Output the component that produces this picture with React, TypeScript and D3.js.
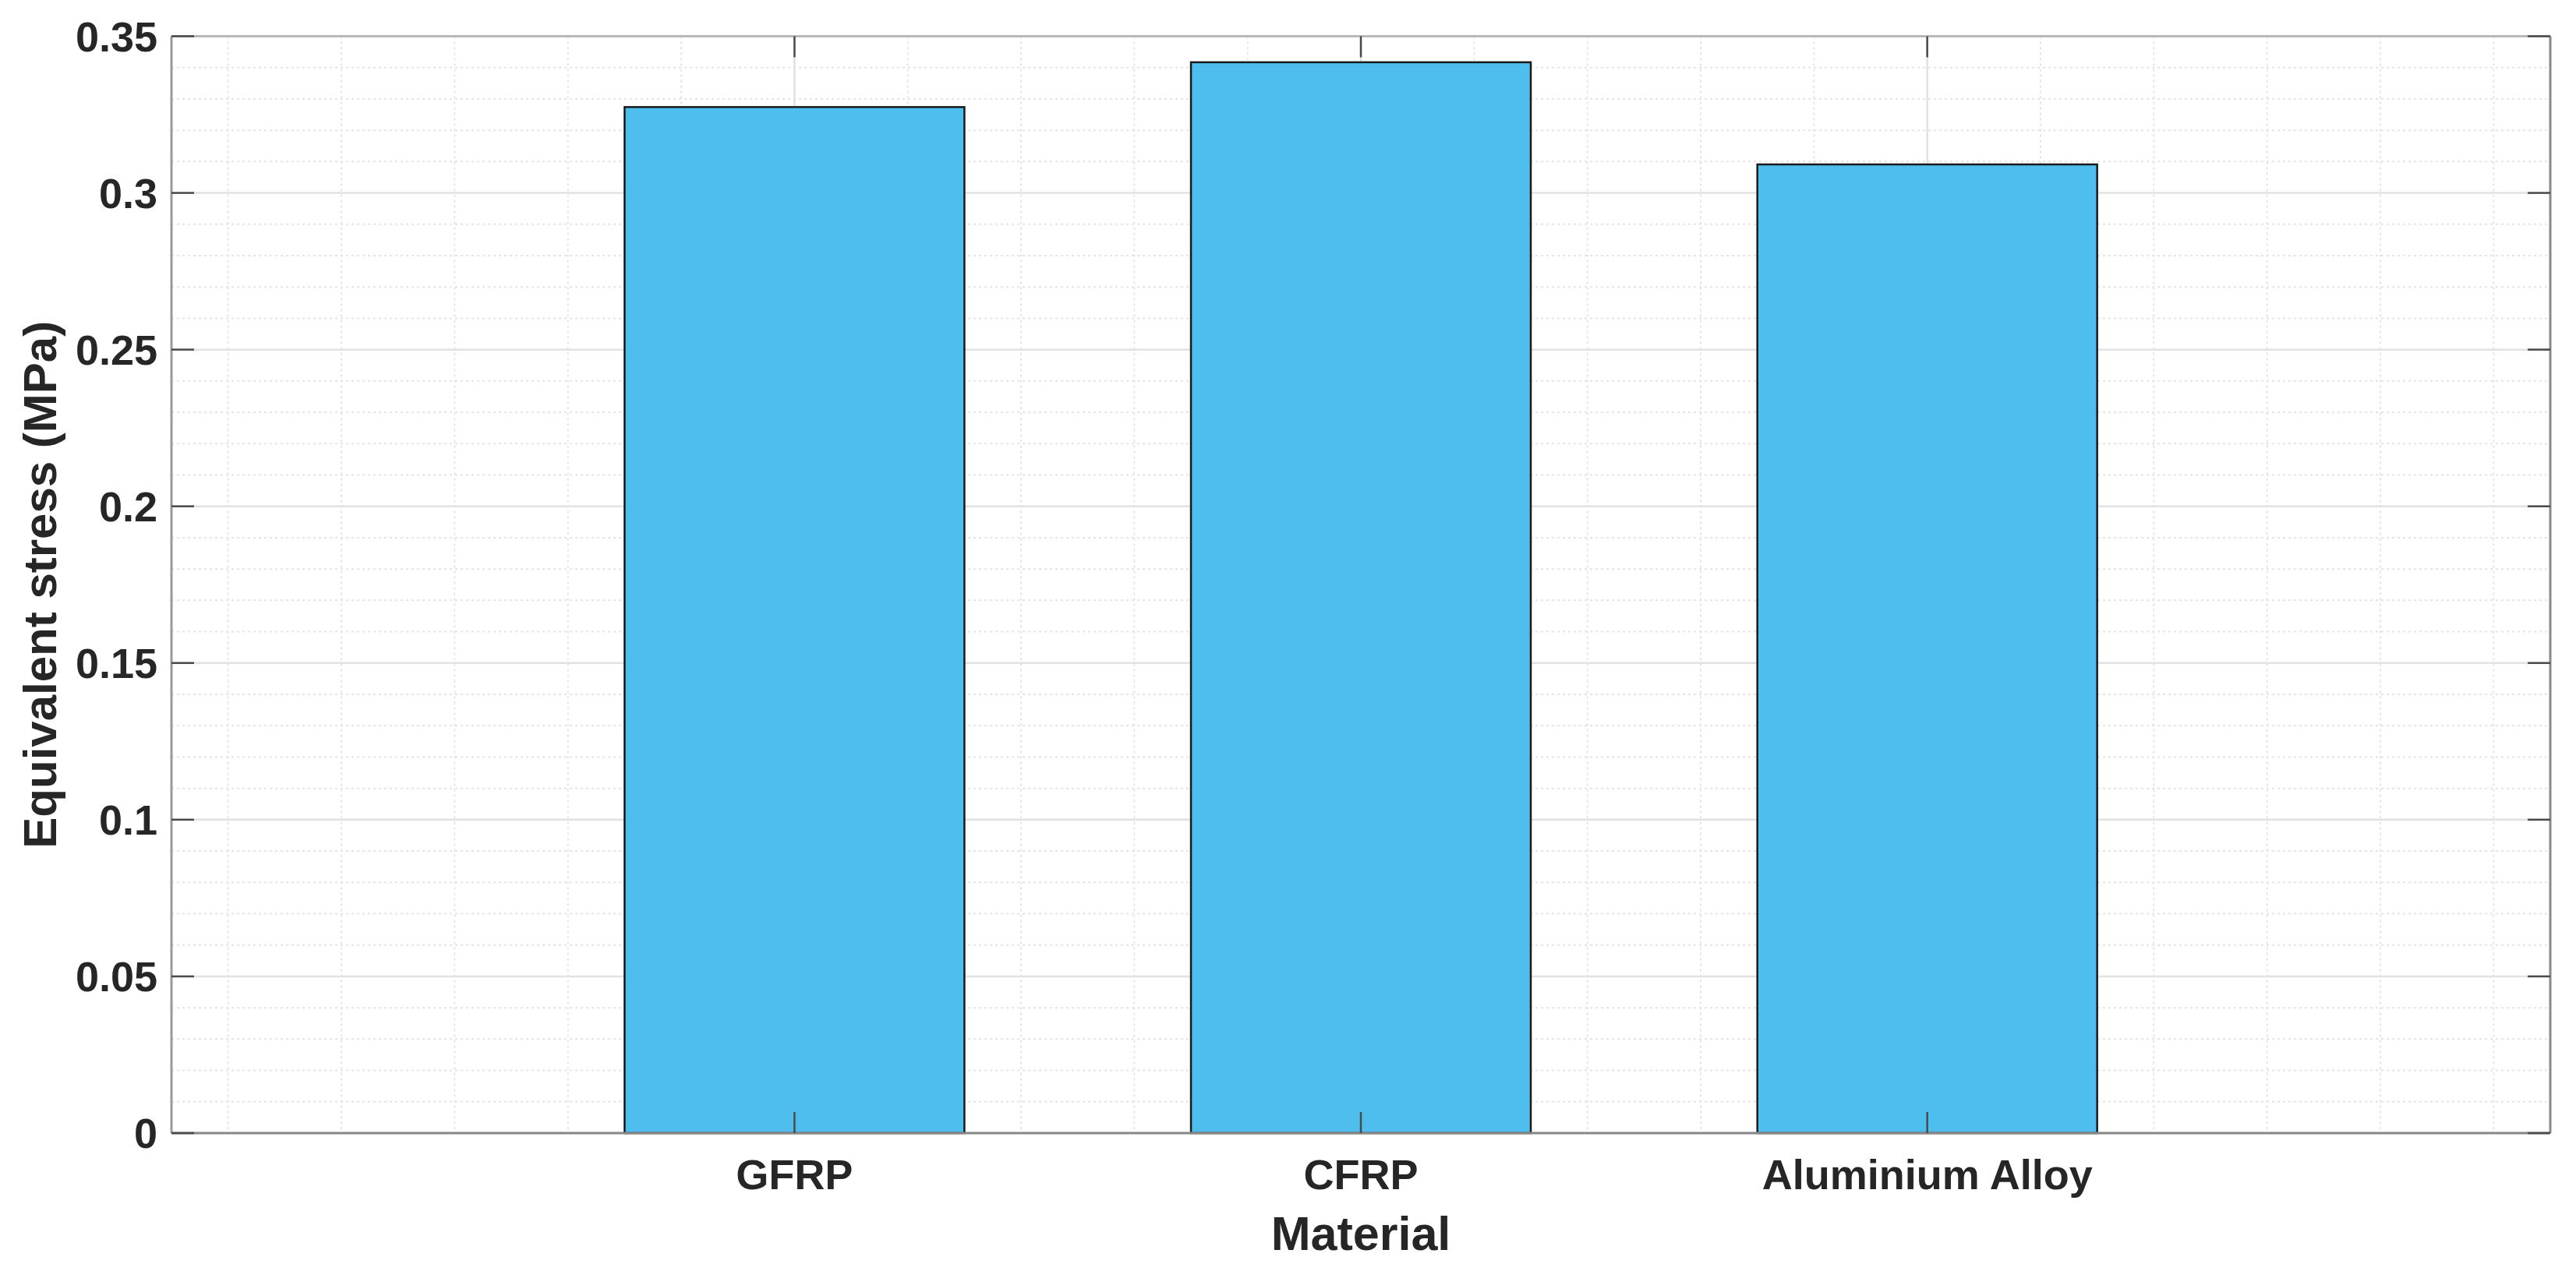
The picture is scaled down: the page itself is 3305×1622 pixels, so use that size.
import React from "react";
import * as d3 from "d3";

const categories = ["GFRP", "CFRP", "Aluminium Alloy"];
const positions = [1, 2, 3];
const stressValues = [0.3274, 0.3417, 0.3091];
const yTickValues = [0, 0.05, 0.1, 0.15, 0.2, 0.25, 0.3, 0.35];
const yTickLabels = ["0", "0.05", "0.1", "0.15", "0.2", "0.25", "0.3", "0.35"];
const xLabel = "Material";
const yLabel = "Equivalent stress (MPa)";

const W = 3305;
const H = 1622;
const L = 220;
const R = 3272;
const T = 46.5;
const B = 1454;

export default function App() {
  const x = d3.scaleLinear().domain([-0.1, 4.1]).range([L, R]);
  const y = d3.scaleLinear().domain([0, 0.35]).range([B, T]);
  const barW = x(0.6) - x(0);

  const minorX = d3.range(0, 4.0001, 0.2).filter((v) => Math.abs(v - Math.round(v)) > 1e-6 || Math.round(v) === 0 || Math.round(v) === 4);
  const minorY = d3.range(0, 0.35001, 0.01).filter((v) => Math.abs(v / 0.05 - Math.round(v / 0.05)) > 1e-6);

  const font = "'Liberation Sans', Arial, Helvetica, sans-serif";
  const txt = "#262626";

  return (
    <svg width={W} height={H} style={{ position: "absolute", left: 0, top: 0, display: "block", background: "#fff" }}>
      <rect x={0} y={0} width={W} height={H} fill="#fff" />
      {/* minor grid */}
      <g stroke="#e4e4e4" strokeWidth={2} strokeDasharray="3 4">
        {minorX.map((v, i) => (
          <line key={"mx" + i} x1={x(v)} x2={x(v)} y1={T} y2={B} />
        ))}
        {minorY.map((v, i) => (
          <line key={"my" + i} x1={L} x2={R} y1={y(v)} y2={y(v)} />
        ))}
      </g>
      {/* major grid */}
      <g stroke="#e2e2e2" strokeWidth={2.5}>
        {positions.map((v, i) => (
          <line key={"gx" + i} x1={x(v)} x2={x(v)} y1={T} y2={B} />
        ))}
        {yTickValues.map((v, i) => (
          <line key={"gy" + i} x1={L} x2={R} y1={y(v)} y2={y(v)} />
        ))}
      </g>
      {/* bars */}
      <g>
        {stressValues.map((v, i) => (
          <rect
            key={"b" + i}
            x={x(positions[i]) - barW / 2}
            y={y(v)}
            width={barW}
            height={y(0) - y(v)}
            fill="#4DBEEE"
            stroke="#1a1a1a"
            strokeWidth={2.5}
          />
        ))}
      </g>
      {/* axes box */}
      <line x1={L} x2={R} y1={T} y2={T} stroke="#b8b8b8" strokeWidth={3} />
      <line x1={L} x2={L} y1={T} y2={B} stroke="#999" strokeWidth={3} />
      <line x1={R} x2={R} y1={T} y2={B} stroke="#888" strokeWidth={3} />
      <line x1={L} x2={R} y1={B} y2={B} stroke="#888" strokeWidth={3} />
      {/* ticks */}
      <g stroke="#4a4a4a" strokeWidth={2.5}>
        {yTickValues.map((v, i) => (
          <g key={"ty" + i}>
            <line x1={L} x2={L + 29} y1={y(v)} y2={y(v)} />
            <line x1={R - 29} x2={R} y1={y(v)} y2={y(v)} />
          </g>
        ))}
        {positions.map((v, i) => (
          <g key={"tx" + i}>
            <line x1={x(v)} x2={x(v)} y1={B} y2={B - 27} />
            <line x1={x(v)} x2={x(v)} y1={T} y2={T + 27} />
          </g>
        ))}
      </g>
      {/* y tick labels */}
      <g fontFamily={font} fontWeight="bold" fontSize={54} fill={txt} textAnchor="end">
        {yTickValues.map((v, i) => (
          <text key={"yl" + i} x={202} y={y(v) + 19}>
            {yTickLabels[i]}
          </text>
        ))}
      </g>
      {/* x tick labels */}
      <g fontFamily={font} fontWeight="bold" fontSize={54} fill={txt} textAnchor="middle">
        {categories.map((c, i) => (
          <text key={"xl" + i} x={x(positions[i])} y={1526}>
            {c}
          </text>
        ))}
      </g>
      {/* axis labels */}
      <text x={(L + R) / 2} y={1604} fontFamily={font} fontWeight="bold" fontSize={61} fill={txt} textAnchor="middle">
        {xLabel}
      </text>
      <text
        transform={`translate(72, ${(T + B) / 2}) rotate(-90)`}
        fontFamily={font}
        fontWeight="bold"
        fontSize={60}
        fill={txt}
        textAnchor="middle"
      >
        {yLabel}
      </text>
    </svg>
  );
}
